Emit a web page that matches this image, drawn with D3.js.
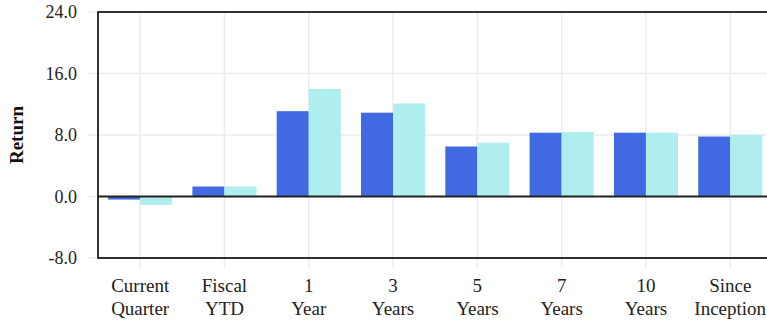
<!DOCTYPE html>
<html>
<head>
<meta charset="utf-8">
<script src="https://cdn.jsdelivr.net/npm/d3@7"></script>
<style>
  body { margin: 0; background: #fff; }
  svg { display: block; font-family: "Liberation Serif", "Times New Roman", serif; }
</style>
</head>
<body>
<div id="chart"></div>
<script>
// periods on the x axis, two lines each
const periods = [
  ["Current", "Quarter"],
  ["Fiscal", "YTD"],
  ["1", "Year"],
  ["3", "Years"],
  ["5", "Years"],
  ["7", "Years"],
  ["10", "Years"],
  ["Since", "Inception"]
];
// portfolio (dark) and benchmark (light) returns
const portfolio = [-0.4, 1.3, 11.1, 10.9, 6.5, 8.3, 8.3, 7.8];
const benchmark = [-1.1, 1.3, 14.0, 12.1, 7.0, 8.4, 8.3, 8.0];
const yTicks = [-8, 0, 8, 16, 24];

const W = 767, H = 324;
const margin = {top: 12, left: 98, bottom: 66};
const plotRight = 772.4; // plot runs a bit past the window edge
const plotBottom = H - margin.bottom; // 258

const svg = d3.select("#chart").append("svg")
  .attr("width", W)
  .attr("height", H);

const x = d3.scaleBand()
  .domain(d3.range(periods.length))
  .range([margin.left, plotRight])
  .paddingInner(0.24)
  .paddingOuter(0.12);

const y = d3.scaleLinear()
  .domain([-8, 24])
  .range([plotBottom, margin.top]);

const gridColor = "#ececec";

// horizontal grid + small outer ticks
svg.append("g").selectAll("line")
  .data(yTicks)
  .join("line")
  .attr("x1", margin.left - 10)
  .attr("x2", plotRight)
  .attr("y1", d => y(d))
  .attr("y2", d => y(d))
  .attr("stroke", gridColor)
  .attr("stroke-width", 1.5);

// vertical grid at each period
svg.append("g").selectAll("line")
  .data(periods)
  .join("line")
  .attr("x1", (d, i) => x(i) + x.bandwidth() / 2)
  .attr("x2", (d, i) => x(i) + x.bandwidth() / 2)
  .attr("y1", margin.top)
  .attr("y2", plotBottom + 10)
  .attr("stroke", gridColor)
  .attr("stroke-width", 1.5);

// bars
const half = x.bandwidth() / 2;
const series = [
  {values: portfolio, color: "#4169E1", offset: 0},
  {values: benchmark, color: "#AFEEEE", offset: half}
];
series.forEach(s => {
  svg.append("g").selectAll("rect")
    .data(s.values)
    .join("rect")
    .attr("x", (d, i) => x(i) + s.offset)
    .attr("width", half)
    .attr("y", d => y(Math.max(0, d)))
    .attr("height", d => Math.abs(y(d) - y(0)))
    .attr("fill", s.color);
});

// zero line
svg.append("line")
  .attr("x1", margin.left)
  .attr("x2", plotRight)
  .attr("y1", y(0))
  .attr("y2", y(0))
  .attr("stroke", "#222")
  .attr("stroke-width", 1.8);

// panel border
svg.append("rect")
  .attr("x", margin.left)
  .attr("y", margin.top)
  .attr("width", plotRight - margin.left)
  .attr("height", plotBottom - margin.top)
  .attr("fill", "none")
  .attr("stroke", "#000")
  .attr("stroke-width", 1.6);

// y tick labels
svg.append("g").selectAll("text")
  .data(yTicks)
  .join("text")
  .attr("x", margin.left - 21)
  .attr("y", d => y(d) + 6)
  .attr("text-anchor", "end")
  .attr("font-size", 18)
  .attr("fill", "#222")
  .text(d => d.toFixed(1));

// x labels
const xl = svg.append("g").selectAll("text")
  .data(periods)
  .join("text")
  .attr("text-anchor", "middle")
  .attr("font-size", 19)
  .attr("fill", "#222");
xl.append("tspan")
  .attr("x", (d, i) => x(i) + x.bandwidth() / 2)
  .attr("y", plotBottom + 34)
  .text(d => d[0]);
xl.append("tspan")
  .attr("x", (d, i) => x(i) + x.bandwidth() / 2)
  .attr("y", plotBottom + 57)
  .text(d => d[1]);

// y title
svg.append("text")
  .attr("transform", "translate(23," + ((margin.top + plotBottom) / 2) + ") rotate(-90)")
  .attr("text-anchor", "middle")
  .attr("font-size", 19)
  .attr("font-weight", "bold")
  .attr("fill", "#111")
  .text("Return");
</script>
</body>
</html>
